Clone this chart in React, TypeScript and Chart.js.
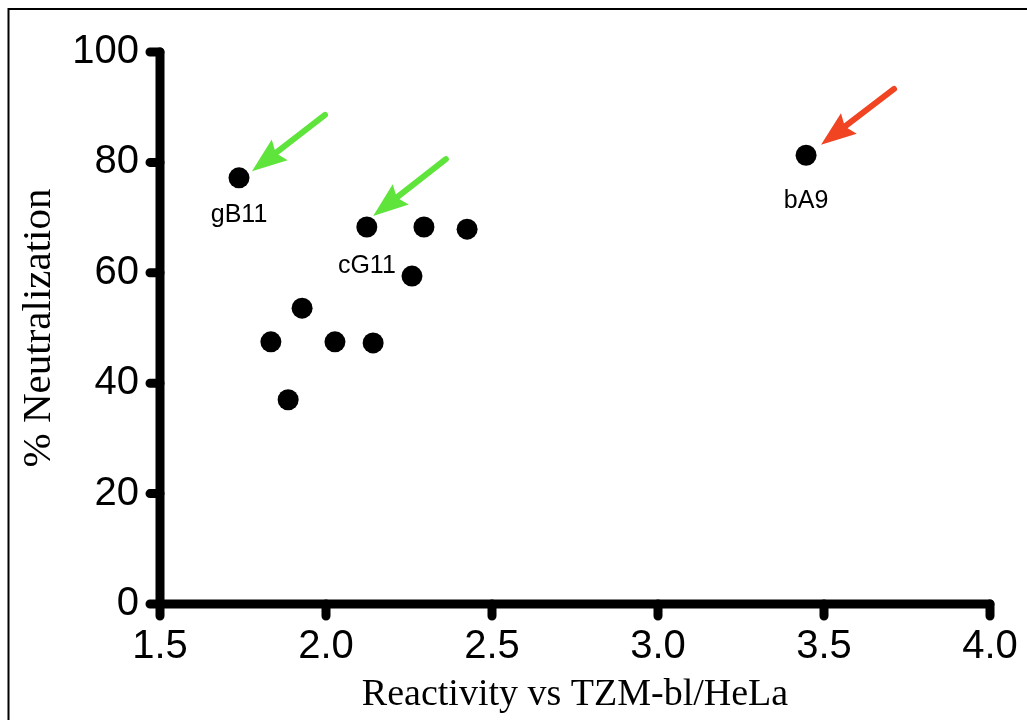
import React, { useEffect, useRef } from 'react';
import { Chart, registerables } from 'chart.js';

Chart.register(...registerables);

// ---- data ----
const reactivity = [1.738, 2.123, 2.295, 2.425, 2.259, 1.928, 1.834, 2.027, 2.142, 1.886, 3.446];
const neutralization = [77.2, 68.3, 68.3, 67.9, 59.4, 53.6, 47.5, 47.5, 47.3, 37.0, 81.3];
const cloneNames = ['gB11', 'cG11', '', '', '', '', '', '', '', '', 'bA9'];

const xTicks = [1.5, 2.0, 2.5, 3.0, 3.5, 4.0];
const yTicks = [0, 20, 40, 60, 80, 100];

// arrows (data units): start -> tip
const arrowFromX = [1.997, 2.361, 3.711];
const arrowFromY = [88.6, 80.6, 93.3];
const arrowToX = [1.777, 2.142, 3.491];
const arrowToY = [78.4, 70.3, 83.2];
const arrowColors = ['#5ee43b', '#5ee43b', '#f04423'];

// label vertical offsets (px, style)
const labelOffset: Record<string, number> = { gB11: 44, cG11: 46, bA9: 53 };

const overlayPlugin = {
  id: 'overlay',
  beforeDatasetsDraw(chart: any) {
    const ctx = chart.ctx;
    const xs = chart.scales.x;
    const ys = chart.scales.y;
    ctx.save();
    // outer frame
    ctx.strokeStyle = '#000';
    ctx.lineWidth = 2;
    ctx.beginPath();
    ctx.moveTo(8.5, 722);
    ctx.lineTo(8.5, 9);
    ctx.lineTo(1030, 9);
    ctx.stroke();

    // axes
    const ax = xs.getPixelForValue(xs.min);
    const ay = ys.getPixelForValue(ys.min);
    const axEnd = xs.getPixelForValue(xs.max);
    const ayTop = ys.getPixelForValue(ys.max);
    ctx.lineWidth = 9;
    ctx.lineCap = 'round';
    ctx.lineJoin = 'round';
    ctx.beginPath();
    ctx.moveTo(ax, ayTop);
    ctx.lineTo(ax, ay);
    ctx.lineTo(axEnd, ay);
    ctx.stroke();
    ctx.beginPath();
    ys.ticks.forEach((t: any) => {
      const p = ys.getPixelForValue(t.value);
      ctx.moveTo(ax - 10, p);
      ctx.lineTo(ax, p);
    });
    xs.ticks.forEach((t: any) => {
      const p = xs.getPixelForValue(t.value);
      ctx.moveTo(p, ay);
      ctx.lineTo(p, ay + 12);
    });
    ctx.stroke();
    ctx.restore();
  },
  afterDatasetsDraw(chart: any) {
    const ctx = chart.ctx;
    const xs = chart.scales.x;
    const ys = chart.scales.y;
    ctx.save();
    // labels
    ctx.fillStyle = '#000';
    ctx.font = '25px "Liberation Sans", Arial, sans-serif';
    ctx.textAlign = 'center';
    ctx.textBaseline = 'alphabetic';
    cloneNames.forEach((name, i) => {
      if (!name) return;
      const px = xs.getPixelForValue(reactivity[i]);
      const py = ys.getPixelForValue(neutralization[i]);
      ctx.fillText(name, px, py + (labelOffset[name] ?? 46));
    });
    // arrows
    arrowFromX.forEach((_, i) => {
      const x1 = xs.getPixelForValue(arrowFromX[i]);
      const y1 = ys.getPixelForValue(arrowFromY[i]);
      const x2 = xs.getPixelForValue(arrowToX[i]);
      const y2 = ys.getPixelForValue(arrowToY[i]);
      const ang = Math.atan2(y2 - y1, x2 - x1);
      const headLen = 35;
      const headHalf = 13;
      const bx = x2 - headLen * Math.cos(ang);
      const by = y2 - headLen * Math.sin(ang);
      ctx.strokeStyle = arrowColors[i];
      ctx.fillStyle = arrowColors[i];
      ctx.lineWidth = 6;
      ctx.lineCap = 'round';
      ctx.beginPath();
      ctx.moveTo(x1, y1);
      ctx.lineTo(bx + 4 * Math.cos(ang), by + 4 * Math.sin(ang));
      ctx.stroke();
      const nx = -Math.sin(ang);
      const ny = Math.cos(ang);
      ctx.beginPath();
      ctx.moveTo(x2, y2);
      ctx.lineTo(bx + nx * headHalf, by + ny * headHalf);
      ctx.lineTo(bx + 5 * Math.cos(ang), by + 5 * Math.sin(ang));
      ctx.lineTo(bx - nx * headHalf, by - ny * headHalf);
      ctx.closePath();
      ctx.fill();
    });
    ctx.restore();
  },
};

export default function App() {
  const canvasRef = useRef<HTMLCanvasElement | null>(null);

  useEffect(() => {
    if (!canvasRef.current) return;
    const chart = new Chart(canvasRef.current, {
      type: 'scatter',
      data: {
        datasets: [
          {
            data: reactivity.map((x, i) => ({ x, y: neutralization[i] })),
            backgroundColor: '#000',
            borderColor: '#000',
            borderWidth: 0,
            pointRadius: 10.5,
            pointHoverRadius: 10.5,
          },
        ],
      },
      options: {
        responsive: false,
        animation: false,
        devicePixelRatio: 1,
        layout: { padding: { left: 0, top: 52, right: 37, bottom: 0 } },
        plugins: {
          legend: { display: false },
          tooltip: { enabled: false },
        },
        scales: {
          x: {
            type: 'linear',
            min: 1.5,
            max: 4.0,
            afterBuildTicks: (scale: any) => {
              scale.ticks = xTicks.map((v) => ({ value: v }));
            },
            afterFit: (scale: any) => {
              scale.height = 116;
            },
            grid: { display: true, drawOnChartArea: false, drawTicks: true, tickLength: 19, color: 'rgba(0,0,0,0)' },
            border: { display: false },
            ticks: {
              color: '#000',
              padding: 0,
              font: { family: '"Liberation Sans", Arial, sans-serif', size: 40 },
              callback: (v: any) => Number(v).toFixed(1),
              autoSkip: false,
              maxRotation: 0,
            },
            title: {
              display: true,
              text: 'Reactivity vs TZM-bl/HeLa',
              color: '#000',
              font: { family: '"Liberation Serif", "Times New Roman", serif', size: 38 },
              padding: { top: 0, bottom: 2 },
            },
          },
          y: {
            type: 'linear',
            min: 0,
            max: 100,
            afterBuildTicks: (scale: any) => {
              scale.ticks = yTicks.map((v) => ({ value: v }));
            },
            afterFit: (scale: any) => {
              scale.width = 160;
            },
            grid: { display: true, drawOnChartArea: false, drawTicks: true, tickLength: 21, color: 'rgba(0,0,0,0)' },
            border: { display: false },
            ticks: {
              color: '#000',
              padding: 0,
              font: { family: '"Liberation Sans", Arial, sans-serif', size: 40 },
              callback: (v: any) => String(v),
              autoSkip: false,
            },
            title: {
              display: true,
              text: '% Neutralization',
              color: '#000',
              font: { family: '"Liberation Serif", "Times New Roman", serif', size: 41 },
              padding: { top: 15, bottom: 0 },
            },
          },
        },
      },
      plugins: [overlayPlugin],
    });
    return () => chart.destroy();
  }, []);

  return (
    <div style={{ position: 'absolute', left: 0, top: 0, width: 1027, height: 720, overflow: 'hidden', background: '#fff' }}>
      <canvas ref={canvasRef} width={1027} height={720} style={{ display: 'block' }} />
    </div>
  );
}
